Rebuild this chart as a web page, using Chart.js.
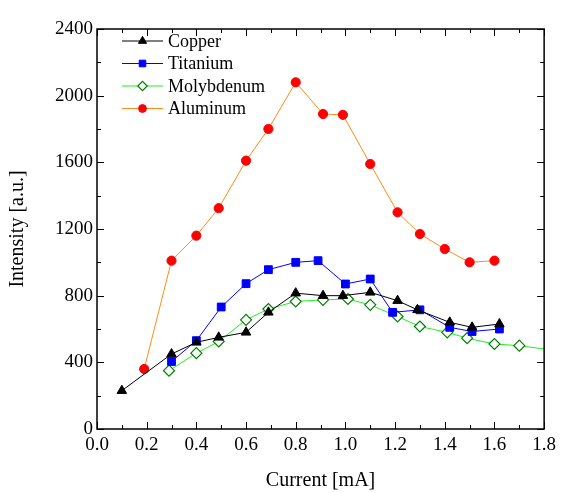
<!DOCTYPE html>
<html>
<head>
<meta charset="utf-8">
<script src="https://cdn.jsdelivr.net/npm/chart.js@4/dist/chart.umd.min.js"></script>
<style>
  html, body { margin: 0; padding: 0; background: #fff; }
</style>
</head>
<body>
<canvas id="c" width="561" height="493"></canvas>
<script>
// values
const copperX = [0.10, 0.30, 0.40, 0.49, 0.60, 0.69, 0.80, 0.91, 0.99, 1.10, 1.21, 1.29, 1.42, 1.51, 1.62];
const copperY = [230, 450, 520, 550, 580, 700, 815, 800, 800, 820, 770, 715, 640, 610, 630];

const titaniumX = [0.30, 0.40, 0.50, 0.60, 0.69, 0.80, 0.89, 1.00, 1.10, 1.19, 1.30, 1.42, 1.51, 1.62];
const titaniumY = [405, 530, 732, 872, 956, 1000, 1010, 870, 900, 700, 715, 610, 585, 600];

const molybdenumX = [0.29, 0.40, 0.49, 0.60, 0.69, 0.80, 0.91, 1.01, 1.10, 1.21, 1.30, 1.41, 1.49, 1.60, 1.70, 1.90];
const molybdenumY = [350, 455, 525, 655, 720, 765, 775, 780, 745, 675, 615, 580, 545, 510, 500, 460];

const aluminumX = [0.19, 0.30, 0.40, 0.49, 0.60, 0.69, 0.80, 0.91, 0.99, 1.10, 1.21, 1.30, 1.40, 1.50, 1.60];
const aluminumY = [360, 1010, 1160, 1325, 1610, 1800, 2080, 1890, 1885, 1590, 1300, 1170, 1080, 1000, 1010];

const seriesNames = ['Copper', 'Titanium', 'Molybdenum', 'Aluminum'];

const xTitle = 'Current [mA]';
const yTitle = 'Intensity [a.u.]';

const serif = '"Liberation Serif", "Times New Roman", serif';

function pts(xs, ys) {
    return xs.map((x, i) => ({x: x, y: ys[i]}));
}

// frame + inward ticks on all four sides
const framePlugin = {
    id: 'frame',
    afterDatasetsDraw(chart) {
        const ctx = chart.ctx, a = chart.chartArea;
        const xs = chart.scales.x, ys = chart.scales.y;
        ctx.save();
        ctx.strokeStyle = '#000';
        ctx.lineWidth = 1;
        ctx.beginPath();
        for (let i = 0; i <= 18; i++) {
            const px = Math.round(xs.getPixelForValue(i / 10)) + 0.5;
            const len = i % 2 === 0 ? 7 : 4;
            ctx.moveTo(px, a.bottom); ctx.lineTo(px, a.bottom - len);
            ctx.moveTo(px, a.top); ctx.lineTo(px, a.top + len);
        }
        for (let i = 0; i <= 12; i++) {
            const py = Math.round(ys.getPixelForValue(i * 200)) + 0.5;
            const len = i % 2 === 0 ? 7 : 4;
            ctx.moveTo(a.left, py); ctx.lineTo(a.left + len, py);
            ctx.moveTo(a.right, py); ctx.lineTo(a.right - len, py);
        }
        ctx.stroke();
        ctx.lineWidth = 1.5;
        ctx.strokeRect(a.left, a.top, a.right - a.left, a.bottom - a.top);
        ctx.restore();
    }
};

// legend drawn like the original: short line with the marker in the middle
const legendPlugin = {
    id: 'lineLegend',
    afterDraw(chart) {
        const ctx = chart.ctx, a = chart.chartArea;
        const x0 = a.left + 25, x1 = a.left + 66, mid = (x0 + x1) / 2;
        ctx.save();
        ctx.font = '18px ' + serif;
        ctx.textBaseline = 'middle';
        chart.data.datasets.forEach((ds, i) => {
            const yy = a.top + 12 + i * 22.5;
            ctx.strokeStyle = ds.borderColor;
            ctx.lineWidth = 1;
            ctx.beginPath();
            ctx.moveTo(x0, yy); ctx.lineTo(x1, yy);
            ctx.stroke();
            ctx.fillStyle = ds.pointBackgroundColor;
            ctx.strokeStyle = ds.pointBorderColor;
            ctx.lineWidth = ds.pointBorderWidth;
            Chart.helpers.drawPoint(ctx, {
                pointStyle: ds.pointStyle,
                rotation: 0,
                radius: ds.pointRadius * 0.85,
                borderWidth: ds.pointBorderWidth
            }, mid, yy);
            ctx.fillStyle = '#000';
            ctx.fillText(ds.label, x1 + 5, yy + 1);
        });
        ctx.restore();
    }
};

new Chart(document.getElementById('c'), {
    type: 'line',
    data: {
        datasets: [
            {
                label: seriesNames[0],
                data: pts(copperX, copperY),
                borderColor: '#000000',
                borderWidth: 1,
                pointStyle: 'triangle',
                pointRadius: 5.5,
                pointBackgroundColor: '#000000',
                pointBorderColor: '#000000',
                pointBorderWidth: 1
            },
            {
                label: seriesNames[1],
                data: pts(titaniumX, titaniumY),
                borderColor: '#0000ff',
                borderWidth: 1,
                pointStyle: 'rect',
                pointRadius: 5.5,
                pointBackgroundColor: '#0000ff',
                pointBorderColor: '#0000ff',
                pointBorderWidth: 1
            },
            {
                label: seriesNames[2],
                data: pts(molybdenumX, molybdenumY),
                borderColor: '#22ee22',
                borderWidth: 1,
                pointStyle: 'rectRot',
                pointRadius: 5.5,
                pointBackgroundColor: '#ffffff',
                pointBorderColor: '#008000',
                pointBorderWidth: 1.2
            },
            {
                label: seriesNames[3],
                data: pts(aluminumX, aluminumY),
                borderColor: '#ff8c1a',
                borderWidth: 1,
                pointStyle: 'circle',
                pointRadius: 4.6,
                pointBackgroundColor: '#ff0000',
                pointBorderColor: '#ff0000',
                pointBorderWidth: 1
            }
        ]
    },
    options: {
        responsive: false,
        animation: false,
        events: [],
        layout: {padding: {left: 0, top: 29, right: 14, bottom: 0}},
        plugins: {
            legend: {display: false},
            tooltip: {enabled: false}
        },
        elements: {line: {tension: 0}},
        scales: {
            x: {
                type: 'linear',
                min: 0,
                max: 1.8,
                grid: {display: false, drawTicks: false},
                border: {display: false},
                ticks: {
                    stepSize: 0.2,
                    padding: 5,
                    color: '#000',
                    font: {family: serif, size: 19},
                    callback: v => v.toFixed(1)
                },
                title: {
                    display: true,
                    text: xTitle,
                    color: '#000',
                    font: {family: serif, size: 20},
                    padding: {top: 1, bottom: 0}
                },
                afterFit: s => { s.height = 64; }
            },
            y: {
                type: 'linear',
                min: 0,
                max: 2400,
                grid: {display: false, drawTicks: false},
                border: {display: false},
                ticks: {
                    stepSize: 400,
                    padding: 4,
                    color: '#000',
                    font: {family: serif, size: 19},
                    callback: v => String(v)
                },
                title: {
                    display: true,
                    text: yTitle,
                    color: '#000',
                    font: {family: serif, size: 20},
                    padding: {top: 6, bottom: 0}
                },
                afterFit: s => { s.width = 97; }
            }
        }
    },
    plugins: [framePlugin, legendPlugin]
});
</script>
</body>
</html>
